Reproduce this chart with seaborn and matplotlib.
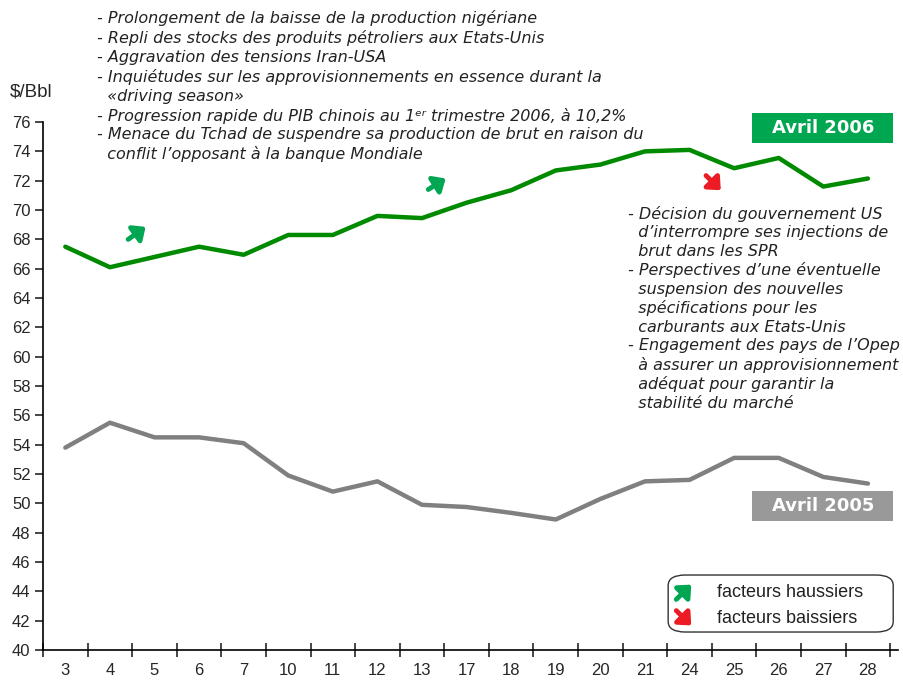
import numpy as np
import matplotlib
matplotlib.use('Agg')
import matplotlib.pyplot as plt
import pandas as pd
import seaborn as sns
from matplotlib.patches import FancyBboxPatch, Rectangle

# DATA
days = ['3', '4', '5', '6', '7', '10', '11', '12', '13', '17',
        '18', '19', '20', '21', '24', '25', '26', '27', '28']
avril_2006 = [67.5, 66.1, 66.8, 67.5, 66.95, 68.3, 68.3, 69.6, 69.45, 70.5,
              71.35, 72.7, 73.1, 74.0, 74.1, 72.85, 73.55, 71.6, 72.15]
avril_2005 = [53.8, 55.5, 54.5, 54.5, 54.1, 51.9, 50.8, 51.5, 49.9, 49.75,
              49.35, 48.9, 50.3, 51.5, 51.6, 53.1, 53.1, 51.8, 51.35]

haussiers = ("- Prolongement de la baisse de la production nigériane\n"
             "- Repli des stocks des produits pétroliers aux Etats-Unis\n"
             "- Aggravation des tensions Iran-USA\n"
             "- Inquiétudes sur les approvisionnements en essence durant la\n"
             "  «driving season»\n"
             "- Progression rapide du PIB chinois au 1ᵉʳ trimestre 2006, à 10,2%\n"
             "- Menace du Tchad de suspendre sa production de brut en raison du\n"
             "  conflit l’opposant à la banque Mondiale")
baissiers = ("- Décision du gouvernement US\n"
             "  d’interrompre ses injections de\n"
             "  brut dans les SPR\n"
             "- Perspectives d’une éventuelle\n"
             "  suspension des nouvelles\n"
             "  spécifications pour les\n"
             "  carburants aux Etats-Unis\n"
             "- Engagement des pays de l’Opep\n"
             "  à assurer un approvisionnement\n"
             "  adéquat pour garantir la\n"
             "  stabilité du marché")

# colours
green = '#008a00'
label_green = '#00a650'
grey = '#808080'
label_grey = '#999999'
arrow_green = '#00a651'
arrow_red = '#ed1c24'

sns.set_theme(style='white')
plt.rcParams['font.family'] = ['DejaVu Sans']
narrow = ['Liberation Sans Narrow', 'Liberation Sans', 'DejaVu Sans']

df = pd.DataFrame({'pos': np.arange(len(days)),
                   '2006': avril_2006,
                   '2005': avril_2005})

fig = plt.figure(figsize=(9.04, 6.81), dpi=100)
ax = fig.add_axes([0.0476, 0.0455, 0.946, 0.7753])

sns.lineplot(data=df, x='pos', y='2006', color=green, lw=3.2, ax=ax)
sns.lineplot(data=df, x='pos', y='2005', color=grey, lw=3.2, ax=ax)

ax.set_xlim(-0.5, 18.68)
ax.set_ylim(40, 76)
ax.set_xlabel('')
ax.set_ylabel('')

for s in ['top', 'right']:
    ax.spines[s].set_visible(False)
for s in ['left', 'bottom']:
    ax.spines[s].set_color('black')
    ax.spines[s].set_linewidth(1.2)

ax.set_yticks(np.arange(40, 77, 2))
ax.tick_params(axis='y', left=True, length=6, width=1.2, direction='out',
               labelsize=12, pad=3)
ax.set_xticks(np.arange(len(days)))
ax.set_xticklabels(days)
ax.tick_params(axis='x', which='major', bottom=False, length=0, labelsize=12,
               pad=9)
ax.set_xticks(np.arange(-0.5, len(days)), minor=True)
ax.tick_params(axis='x', which='minor', bottom=True, length=10, width=1.2,
               direction='inout')
for lab in ax.get_xticklabels() + ax.get_yticklabels():
    lab.set_family(narrow)

fig.text(10 / 904, 1 - 92 / 681, '$/Bbl', fontsize=13.5, family=narrow,
         va='center', ha='left')

# annotations
fig.text(97 / 904, 1 - 10 / 681, haussiers, fontsize=11.5, style='italic',
         va='top', ha='left', linespacing=1.31, color='#222222')
ax.text((628 - 43) / 855, (650 - 206) / 528, baissiers, transform=ax.transAxes,
        fontsize=11.5, style='italic', va='top', ha='left', linespacing=1.28,
        color='#222222')

# arrows
def arrow(x0, y0, x1, y1, col, coords='data'):
    ax.annotate('', xy=(x1, y1), xytext=(x0, y0), xycoords=coords,
                textcoords=coords,
                arrowprops=dict(arrowstyle='-|>,head_length=0.5,head_width=0.45',
                                lw=3.5, color=col, mutation_scale=13,
                                shrinkA=0, shrinkB=0))

arrow(1.41, 68.0, 1.8, 68.85, arrow_green)
arrow(8.14, 71.4, 8.53, 72.15, arrow_green)
arrow(14.37, 72.35, 14.7, 71.35, arrow_red)

# series labels
def tag(y_top, y_bot, text, col):
    x0 = (752 - 43) / 855
    x1 = (893 - 43) / 855
    yb = (650 - y_bot) / 528
    yt = (650 - y_top) / 528
    ax.add_patch(Rectangle((x0, yb), x1 - x0, yt - yb, transform=ax.transAxes,
                           facecolor=col, edgecolor='none', clip_on=False))
    ax.text((x0 + x1) / 2, (yb + yt) / 2, text, transform=ax.transAxes,
            color='white', fontsize=13, fontweight='bold', ha='center',
            va='center')

tag(113, 143, 'Avril 2006', label_green)
tag(491, 521, 'Avril 2005', label_grey)

# legend box
lx0, lx1 = (668 - 43) / 855, (893 - 43) / 855
ly0, ly1 = (650 - 632) / 528, (650 - 575) / 528
ax.add_patch(FancyBboxPatch((lx0, ly0), lx1 - lx0, ly1 - ly0,
                            boxstyle='round,pad=0,rounding_size=0.02',
                            transform=ax.transAxes, facecolor='white',
                            edgecolor='#333333', lw=1.0, clip_on=False))
r1 = (650 - 592) / 528
r2 = (650 - 618) / 528
arrow(0.7405, r1 - 0.014, 0.758, r1 + 0.014, arrow_green, coords='axes fraction')
arrow(0.7405, r2 + 0.014, 0.758, r2 - 0.014, arrow_red, coords='axes fraction')
ax.text(0.788, r1, 'facteurs haussiers', transform=ax.transAxes, fontsize=13,
        family=['Liberation Sans', 'DejaVu Sans'], va='center', ha='left',
        color='#222222')
ax.text(0.788, r2, 'facteurs baissiers', transform=ax.transAxes, fontsize=13,
        family=['Liberation Sans', 'DejaVu Sans'], va='center', ha='left',
        color='#222222')

fig.savefig('out.png', dpi=100)
